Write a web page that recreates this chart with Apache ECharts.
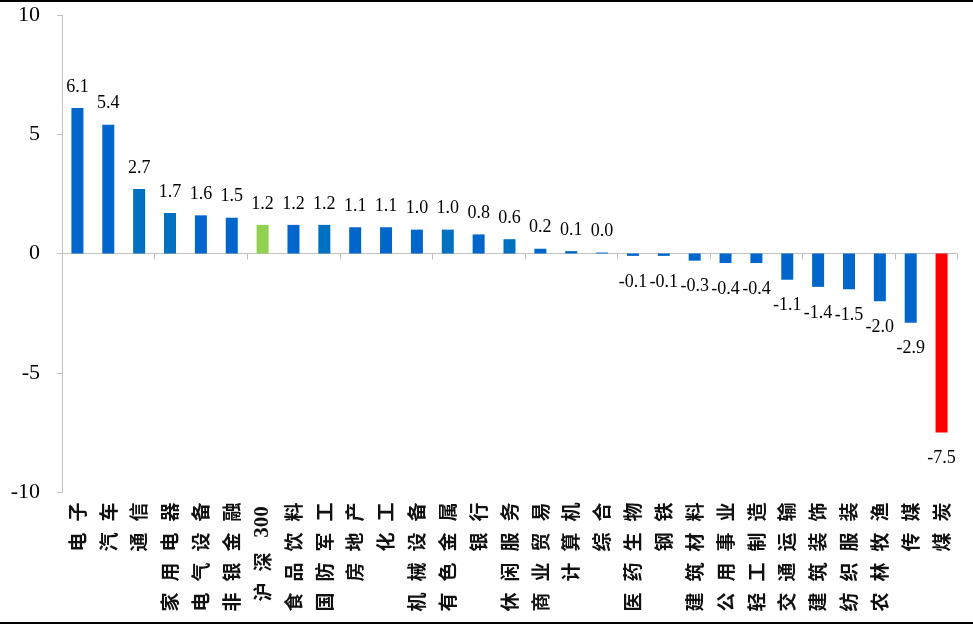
<!DOCTYPE html>
<html>
<head>
<meta charset="utf-8">
<script src="https://cdn.jsdelivr.net/npm/echarts@6/dist/echarts.min.js"></script>
<style>
  html, body { margin: 0; padding: 0; background: #fff; }
  #chart { width: 973px; height: 626px; }
</style>
</head>
<body>
<div id="chart"></div>
<script>
// Sector returns (%), sorted high to low, with the CSI 300 benchmark in the list
const categories = ['电子', '汽车', '通信', '家用电器', '电气设备', '非银金融', '沪深300', '食品饮料', '国防军工', '房地产',
  '化工', '机械设备', '有色金属', '银行', '休闲服务', '商业贸易', '计算机', '综合', '医药生物', '钢铁',
  '建筑材料', '公用事业', '轻工制造', '交通运输', '建筑装饰', '纺织服装', '农林牧渔', '传媒', '煤炭'];
const returns = [6.1, 5.4, 2.7, 1.7, 1.6, 1.5, 1.2, 1.2, 1.2, 1.1,
  1.1, 1.0, 1.0, 0.8, 0.6, 0.2, 0.1, 0.04, -0.1, -0.1,
  -0.3, -0.4, -0.4, -1.1, -1.4, -1.5, -2.0, -2.9, -7.5];
const yTicks = [-10, -5, 0, 5, 10];

const BLUE = '#0066CC';
const TEAL_BLUE = '#0070C0';
const GREEN = '#92D050';
const RED = '#FF0000';
const tealSet = new Set(['通信', '家用电器', '国防军工', '有色金属', '休闲服务']);

function barColor(name) {
  if (name === '沪深300') return GREEN;
  if (name === '煤炭') return RED;
  return tealSet.has(name) ? TEAL_BLUE : BLUE;
}

const seriesData = categories.map((name, i) => ({
  value: returns[i],
  itemStyle: { color: barColor(name) },
  label: returns[i] < 0
    ? { position: 'bottom', distance: 17 }
    : { position: 'top', distance: 12 }
}));

// Each character sits in a fixed-width slot so the rotated names line up in rows
function spacedLabel(name) {
  const m = name.match(/^(\D+)(\d+)$/);
  let out = '';
  if (m) {
    for (const ch of m[1]) out += '{c|' + ch + '}';
    out += '{n|' + m[2] + '}';
  } else {
    for (const ch of name) out += '{c|' + ch + '}';
  }
  return out;
}

const chart = echarts.init(document.getElementById('chart'), null, { renderer: 'canvas' });
chart.setOption({
  animation: false,
  backgroundColor: '#ffffff',
  grid: { left: 62, right: 16, top: 15, bottom: 134 },
  xAxis: [
    {
      type: 'category',
      data: categories,
      position: 'bottom',
      axisLine: { onZero: true, lineStyle: { color: '#c0c0c0', width: 1 } },
      axisTick: { show: true, length: 6, lineStyle: { color: '#c0c0c0' } },
      axisLabel: { show: false }
    },
    {
      type: 'category',
      data: categories,
      position: 'bottom',
      axisLine: { show: false, onZero: false },
      axisTick: { show: false },
      axisLabel: {
        show: true,
        interval: 0,
        rotate: 90,
        margin: 5,
        color: '#000',
        formatter: spacedLabel,
        rich: {
          c: { fontFamily: 'Noto Sans CJK SC', fontSize: 19, fontWeight: 'bold', width: 30, align: 'center', color: '#111' },
          n: { fontFamily: 'Liberation Serif', fontSize: 21, fontWeight: 'bold', width: 50, align: 'center', color: '#111' }
        }
      }
    }
  ],
  yAxis: {
    type: 'value',
    min: -10,
    max: 10,
    interval: 5,
    axisLine: { show: true, lineStyle: { color: '#c0c0c0' } },
    axisTick: { show: true, length: 5, lineStyle: { color: '#c0c0c0' } },
    splitLine: { show: false },
    axisLabel: {
      margin: 22,
      color: '#000',
      fontFamily: 'Liberation Serif',
      fontSize: 22,
      formatter: v => (yTicks.includes(v) ? String(v) : '')
    }
  },
  series: [{
    type: 'bar',
    xAxisIndex: 0,
    data: seriesData,
    barWidth: 12,
    label: {
      show: true,
      color: '#000',
      fontFamily: 'Liberation Serif',
      fontSize: 18,
      formatter: p => p.value.toFixed(1)
    }
  }],
  graphic: [
    { type: 'rect', left: 0, top: 0, shape: { width: 973, height: 2 }, style: { fill: '#000' }, silent: true },
    { type: 'rect', left: 0, top: 622, shape: { width: 973, height: 2 }, style: { fill: '#000' }, silent: true }
  ]
});
</script>
</body>
</html>
